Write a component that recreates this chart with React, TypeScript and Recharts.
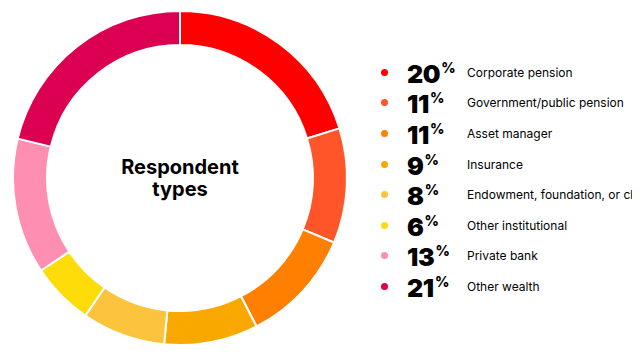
import { PieChart, Pie, Cell } from "recharts"

const categories = [
    "Corporate pension",
    "Government/public pension",
    "Asset manager",
    "Insurance",
    "Endowment, foundation, or charity",
    "Other institutional",
    "Private bank",
    "Other wealth",
]
const shares = [20, 11, 11, 9, 8, 6, 13, 21]
const colors = ["#ff0000", "#ff5528", "#ff8000", "#f9a800", "#fcc43c", "#fddc0a", "#ff8fb2", "#dc0052"]
const centerLines = ["Respondent", "types"]

const data = categories.map((name, i) => ({ name, value: shares[i] }))

function LegendRows() {
    return (
        <div style={{ position: "absolute", left: 375, top: 57, width: 265, overflow: "hidden", fontFamily: "Inter, 'Noto Sans', sans-serif" }}>
            {data.map((d, i) => (
                <div key={d.name} style={{ display: "flex", alignItems: "center", height: 30.6, whiteSpace: "nowrap" }}>
                    <span style={{ flexShrink: 0, width: 7, height: 7, borderRadius: "50%", background: colors[i], display: "inline-block", marginLeft: 6 }} />
                    <span style={{ flexShrink: 0, width: 60, marginLeft: 19, fontWeight: 900, fontSize: 25, color: "#000", lineHeight: 1, position: "relative", top: 2, letterSpacing: -0.3 }}>
                        {d.value}
                        <span style={{ fontSize: 14, fontWeight: 800, position: "relative", top: -10, marginLeft: 1 }}>%</span>
                    </span>
                    <span style={{ flexShrink: 0, fontSize: 12, color: "#000" }}>{d.name}</span>
                </div>
            ))}
        </div>
    )
}

export default function App() {
    return (
        <div style={{ position: "relative", width: 640, height: 359, overflow: "hidden", margin: -8, background: "#fff" }}>
            <PieChart width={360} height={359} margin={{ top: 0, right: 0, bottom: 0, left: 0 }}>
                <Pie
                    data={data}
                    dataKey="value"
                    cx={180}
                    cy={178}
                    innerRadius={133}
                    outerRadius={167}
                    startAngle={90}
                    endAngle={-270}
                    stroke="#fff"
                    strokeWidth={2}
                    isAnimationActive={false}
                >
                    {data.map((d, i) => <Cell key={d.name} fill={colors[i]} />)}
                </Pie>
                <text x={180} y={174} textAnchor="middle" fontFamily="Inter, sans-serif" fontWeight={700} fontSize={20} fill="#000">{centerLines[0]}</text>
                <text x={180} y={196} textAnchor="middle" fontFamily="Inter, sans-serif" fontWeight={700} fontSize={20} fill="#000">{centerLines[1]}</text>
            </PieChart>
            <LegendRows />
        </div>
    )
}
